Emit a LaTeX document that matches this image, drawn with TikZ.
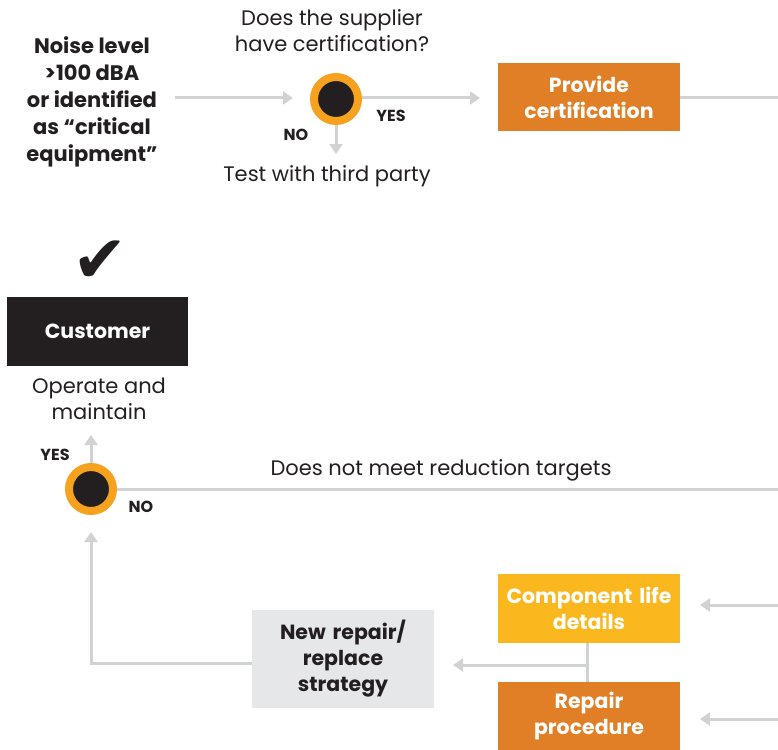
\documentclass[tikz,border=0pt]{standalone}
\usepackage{fontspec}
\setmainfont{Poppins}
\newfontfamily\symfont{DejaVu Sans}
\usetikzlibrary{arrows.meta,calc}
\definecolor{lgray}{RGB}{209,210,212}
\definecolor{ringor}{RGB}{246,162,30}
\definecolor{inkb}{RGB}{35,31,32}
\definecolor{boxor}{RGB}{224,127,38}
\definecolor{boxyl}{RGB}{251,184,30}
\definecolor{boxgr}{RGB}{230,231,232}
\tikzset{
  conn/.style={draw=lgray,line width=3pt},
  arr/.style={conn,-{Triangle[width=13pt,length=10pt]}},
  decision/.style={circle,fill=inkb,draw=ringor,line width=8pt,minimum size=44pt,inner sep=0pt},
  boxbase/.style={rectangle,inner sep=0pt,align=center,text width=178pt,font=\bfseries\fontsize{20.5}{26}\selectfont},
  orbox/.style={boxbase,fill=boxor,text=white,minimum width=182pt,minimum height=68pt},
  ylbox/.style={boxbase,fill=boxyl,text=white,minimum width=182pt,minimum height=69pt},
  blbox/.style={boxbase,fill=inkb,text=white,minimum width=181pt,minimum height=69pt},
  grbox/.style={boxbase,fill=boxgr,text=inkb,minimum width=182pt,minimum height=98pt},
  lbl/.style={text=inkb,align=center,font=\fontsize{21}{26}\selectfont,inner sep=0pt},
  blbl/.style={text=inkb,align=center,font=\bfseries\fontsize{21}{27}\selectfont,inner sep=0pt},
  yn/.style={text=inkb,font=\bfseries\fontsize{16}{16}\selectfont,inner sep=0pt},
}
\begin{document}
\begin{tikzpicture}[x=1pt,y=-1pt]
\useasboundingbox (0,0) rectangle (778,749);
% top row
\node[blbl] (noise) at (92,102) {Noise level\\>100 dBA\\or identified\\as “critical\\equipment”};
\node[decision] (c1) at (336,99) {};
\node[lbl] (q1) at (332,31) {Does the supplier\\have certification?};
\node[yn] (yes1) at (391,116) {YES};
\node[yn] (no1) at (296,135) {NO};
\node[lbl] (test) at (327,176) {Test with third party};
\node[orbox] (prov) at (589,97) {Provide\\certification};
\coordinate (nstart) at (175,98);
\coordinate (c1in) at (293,98);
\coordinate (provin) at (480,98);
\coordinate (c1down) at (336,154);
\coordinate (provout) at (778,98);
\draw[arr] (nstart) -- (c1in);
\draw[arr] (c1.east |- provin) -- (provin);
\draw[arr] (c1.south) -- (c1down);
\draw[conn] (prov.east |- provout) -- (provout);
% customer
\node[inner sep=0pt,text=inkb,font=\symfont\fontsize{66}{66}\selectfont] (check) at (100,262) {✔};
\node[blbox] (cust) at (97.5,331.5) {Customer};
\node[lbl] (oper) at (99,399) {Operate and\\maintain};
\node[decision] (c2) at (91,489) {};
\node[yn] (yes2) at (55,455) {YES};
\node[yn] (no2) at (141,507) {NO};
\node[lbl] (dnm) at (441,470) {Does not meet reduction targets};
\coordinate (c2up) at (91,435);
\coordinate (c2out) at (778,489);
\coordinate (c2in) at (91,532);
\draw[arr] (c2.north) -- (c2up);
\draw[conn] (c2.east) -- (c2out);
% bottom
\node[grbox] (strat) at (343,659) {New repair/\\replace\\strategy};
\node[ylbox] (comp) at (589,608.5) {Component life\\details};
\node[orbox] (rep) at (589,716) {Repair\\procedure};
\coordinate (corner) at (91,663);
\coordinate (junc) at (587,665);
\coordinate (stratin) at (453,665);
\coordinate (compsrc) at (778,605);
\coordinate (compin) at (700,605);
\coordinate (repsrc) at (778,719);
\coordinate (repin) at (700,719);
\draw[arr] (strat.west |- corner) -- (corner) -- (c2in);
\draw[conn] (junc |- comp.south) -- (junc |- rep.north);
\draw[arr] (junc) -- (stratin);
\draw[arr] (compsrc) -- (compin);
\draw[arr] (repsrc) -- (repin);
\end{tikzpicture}
\end{document}
